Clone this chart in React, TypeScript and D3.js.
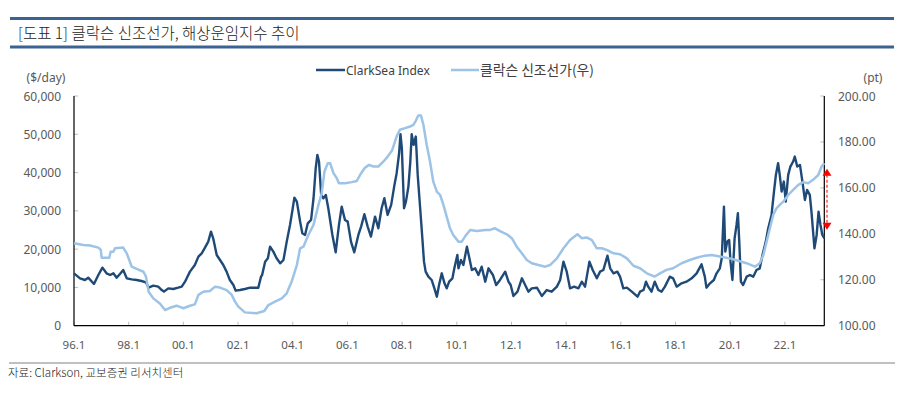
import React from "react";
import * as d3 from "d3";

// ---- Data ----
const clarkYears = [
  1996.0, 1996.22, 1996.4, 1996.52, 1996.73, 1996.89, 1997.04, 1997.19, 1997.32, 1997.44, 1997.56, 1997.68, 1997.8, 1997.93,
  1998.11, 1998.29, 1998.47, 1998.63, 1998.73, 1998.9, 1999.08, 1999.21, 1999.29, 1999.45, 1999.63, 1999.81, 1999.94,
  2000.06, 2000.24, 2000.42, 2000.55, 2000.67, 2000.79, 2000.91, 2001.01, 2001.09, 2001.22, 2001.34, 2001.46, 2001.58,
  2001.7, 2001.83, 2001.91, 2002.07, 2002.25, 2002.44, 2002.62, 2002.74, 2002.84, 2002.88, 2002.99, 2003.09, 2003.17,
  2003.29, 2003.41, 2003.54, 2003.66, 2003.78, 2003.9, 2003.99, 2004.06, 2004.15, 2004.27, 2004.35, 2004.45, 2004.55,
  2004.67, 2004.76, 2004.84, 2004.9, 2004.96, 2005.04, 2005.12, 2005.21, 2005.3, 2005.45, 2005.57, 2005.69, 2005.79,
  2005.91, 2006.01, 2006.13, 2006.25, 2006.4, 2006.5, 2006.62, 2006.74, 2006.86, 2007.01, 2007.13, 2007.25, 2007.35,
  2007.47, 2007.6, 2007.72, 2007.8, 2007.89, 2007.94, 2007.99, 2008.07, 2008.14, 2008.23, 2008.3, 2008.35, 2008.42,
  2008.5, 2008.57, 2008.66, 2008.74, 2008.8, 2008.86, 2008.96, 2009.08, 2009.18, 2009.27, 2009.35, 2009.45, 2009.55,
  2009.63, 2009.72, 2009.84, 2009.91, 2010.02, 2010.06, 2010.15, 2010.24, 2010.37, 2010.46, 2010.55, 2010.67, 2010.79,
  2010.91, 2011.04, 2011.16, 2011.32, 2011.44, 2011.58, 2011.77, 2011.89, 2011.97, 2012.07, 2012.22, 2012.38, 2012.5,
  2012.62, 2012.74, 2012.93, 2013.11, 2013.29, 2013.47, 2013.66, 2013.78, 2013.9, 2014.02, 2014.14, 2014.29, 2014.45,
  2014.57, 2014.69, 2014.85, 2014.97, 2015.12, 2015.24, 2015.36, 2015.51, 2015.61, 2015.73, 2015.87, 2015.97, 2016.09,
  2016.22, 2016.4, 2016.61, 2016.7, 2016.83, 2016.92, 2017.0, 2017.12, 2017.24, 2017.37, 2017.49, 2017.61, 2017.79,
  2017.91, 2018.04, 2018.22, 2018.4, 2018.59, 2018.77, 2018.95, 2019.07, 2019.13, 2019.26, 2019.4, 2019.5, 2019.62,
  2019.69, 2019.77, 2019.82, 2019.89, 2019.96, 2020.01, 2020.08, 2020.16, 2020.23, 2020.28, 2020.33, 2020.39, 2020.47,
  2020.6, 2020.72, 2020.84, 2020.96, 2021.08, 2021.18, 2021.3, 2021.39, 2021.51, 2021.6, 2021.67, 2021.75, 2021.81,
  2021.88, 2021.96, 2022.03, 2022.12, 2022.2, 2022.3, 2022.36, 2022.45, 2022.55, 2022.64, 2022.73, 2022.81, 2022.91,
  2022.97, 2023.03, 2023.08, 2023.16, 2023.23, 2023.3, 2023.37, 2023.44,
];
const clarkValues = [
  13680, 12370, 11940, 12550, 10900, 13250, 15160, 13680, 13250, 13680, 12550, 13500, 14550, 12370,
  12110, 11940, 11680, 11330, 9930, 10460, 10200, 9320, 8890, 9760, 9590, 9930, 10200,
  11500, 14120, 15860, 18040, 18910, 20390, 21960, 24575, 22830, 18475, 17170, 15860, 14120,
  11940, 10630, 9150, 9320, 9590, 9930, 9930, 9930, 12810, 13250, 16730, 17600, 20650,
  19350, 17600, 16300, 17170, 21960, 26320, 30240, 33460, 32420, 27190, 24140, 23700, 26750,
  27620, 33290, 41130, 44620, 42880, 34160, 33290, 34160, 30680, 23700, 19170, 26320, 31110,
  27620, 27190, 21960, 19170, 23700, 25880, 29110, 25880, 23270, 28500, 25450, 30680, 33290,
  28930, 31550, 36780, 39830, 45050, 50020, 46360, 30680, 32420, 36340, 42880, 50020, 47230,
  49410, 39390, 30680, 22830, 16730, 14120, 12810, 11940, 9760, 7580, 10630, 13680, 11070,
  9760, 11500, 12370, 14990, 18475, 14990, 17170, 15860, 20650, 17600, 14550, 14990, 13250,
  15420, 11500, 14990, 13250, 10630, 11940, 14120, 11500, 10630, 7760, 8890, 12370, 10630,
  8890, 9760, 9930, 7760, 9320, 8890, 10200, 11940, 16730, 14120, 9760, 10200, 9760,
  11500, 10200, 16730, 14550, 12370, 14120, 14550, 18300, 14990, 13680, 14120, 12810, 9760,
  9930, 8890, 7580, 8890, 9320, 11500, 10200, 8890, 11500, 9320, 8890, 10200, 12810,
  12370, 10200, 11070, 11500, 12370, 13680, 16030, 12810, 9930, 11070, 11940, 13680, 14990,
  17600, 31110, 19350, 21960, 22400, 16730, 11940, 22830, 26320, 29370, 21960, 11500, 10630,
  12810, 13250, 12810, 14550, 14990, 18475, 21960, 25450, 28930, 35030, 39390, 42440, 39390,
  35030, 37650, 32420, 39390, 41570, 42880, 44180, 41570, 42000, 37650, 32850, 35470, 34160,
  29800, 24575, 20220, 23700, 29800, 26320, 23700, 22830,
];

const priceYears = [
  1996.0, 1996.34, 1996.59, 1996.89, 1996.98, 1997.01, 1997.29, 1997.34, 1997.44, 1997.5, 1997.8, 1997.93,
  1998.11, 1998.29, 1998.54, 1998.63, 1998.73, 1998.9, 1999.14, 1999.33, 1999.51, 1999.75, 1999.88, 2000.0,
  2000.24, 2000.42, 2000.55, 2000.73, 2000.97, 2001.16, 2001.34, 2001.58, 2001.76, 2001.89, 2002.01, 2002.25,
  2002.68, 2002.96, 2003.11, 2003.35, 2003.6, 2003.78, 2003.96, 2004.15, 2004.27, 2004.39, 2004.57, 2004.76,
  2004.94, 2005.06, 2005.16, 2005.28, 2005.37, 2005.49, 2005.61, 2005.69, 2005.91, 2006.16, 2006.34, 2006.5,
  2006.64, 2006.79, 2006.95, 2007.13, 2007.32, 2007.47, 2007.64, 2007.8, 2007.92, 2008.11, 2008.29, 2008.41,
  2008.5, 2008.59, 2008.69, 2008.78, 2008.9, 2009.02, 2009.14, 2009.27, 2009.39, 2009.51, 2009.63, 2009.75,
  2009.87, 2010.06, 2010.18, 2010.3, 2010.49, 2010.73, 2011.04, 2011.22, 2011.4, 2011.58, 2011.83, 2012.01,
  2012.19, 2012.38, 2012.56, 2012.74, 2012.99, 2013.23, 2013.41, 2013.66, 2013.9, 2014.14, 2014.41, 2014.57,
  2014.75, 2014.94, 2015.12, 2015.3, 2015.48, 2015.73, 2015.97, 2016.22, 2016.46, 2016.7, 2016.95, 2017.24,
  2017.43, 2017.67, 2017.91, 2018.22, 2018.52, 2018.77, 2019.07, 2019.32, 2019.62, 2019.99, 2020.29, 2020.6,
  2020.9, 2021.08, 2021.21, 2021.33, 2021.45, 2021.57, 2021.69, 2021.81, 2021.94, 2022.12, 2022.3, 2022.49,
  2022.67, 2022.85, 2023.03, 2023.22, 2023.34, 2023.44,
];
const priceValues = [
  135.9, 135.1, 134.9, 134.0, 133.0, 129.6, 129.6, 132.2, 132.2, 133.7, 134.0, 131.5,
  125.7, 124.7, 123.5, 121.4, 114.8, 111.9, 109.7, 106.8, 107.8, 108.7, 108.2, 107.6,
  108.7, 109.3, 113.4, 114.8, 115.1, 117.0, 116.6, 115.5, 113.6, 110.5, 108.3, 105.8,
  105.4, 106.4, 109.0, 110.5, 111.9, 114.1, 119.2, 126.4, 133.7, 134.4, 139.5, 143.9,
  152.6, 157.7, 167.1, 170.7, 170.7, 166.4, 164.2, 162.0, 162.0, 162.5, 163.0, 166.4,
  168.8, 170.0, 169.3, 169.3, 171.5, 173.6, 176.5, 182.4, 185.3, 186.0, 186.7, 187.4,
  189.2, 191.5, 191.5, 187.4, 178.7, 171.5, 162.7, 158.4, 156.9, 152.6, 147.5, 142.4,
  139.5, 136.6, 136.6, 138.8, 141.7, 141.2, 141.7, 141.7, 142.4, 141.2, 139.8, 138.1,
  134.4, 131.5, 128.6, 127.2, 126.4, 125.7, 126.4, 129.3, 133.7, 137.3, 139.8, 138.1,
  138.4, 137.3, 133.7, 133.7, 133.0, 131.5, 131.1, 129.3, 126.1, 125.0, 122.8, 121.4,
  122.8, 124.3, 125.0, 127.2, 128.6, 129.6, 130.5, 130.8, 130.1, 129.3, 128.3, 127.2,
  125.7, 127.2, 130.8, 136.6, 142.4, 148.2, 151.1, 152.6, 154.0, 156.9, 159.1, 161.3,
  162.5, 162.0, 163.5, 165.6, 169.3, 170.7,
];

const xTickYears = [1996, 1998, 2000, 2002, 2004, 2006, 2008, 2010, 2012, 2014, 2016, 2018, 2020, 2022];
const xTickLabels = ["96.1", "98.1", "00.1", "02.1", "04.1", "06.1", "08.1", "10.1", "12.1", "14.1", "16.1", "18.1", "20.1", "22.1"];
const leftTicks = [0, 10000, 20000, 30000, 40000, 50000, 60000];
const rightTicks = [100, 120, 140, 160, 180, 200];
const arrowRange = [168.3, 141.8];

const TITLE = "[도표 1] 클락슨 신조선가, 해상운임지수 추이";
const SOURCE = "자료: Clarkson, 교보증권 리서치센터";
const SERIES_NAMES = ["ClarkSea Index", "클락슨 신조선가(우)"];

const DARK = "#1f4a78";
const LIGHT = "#9dc3e6";
const FONT = "'Noto Sans', 'Noto Sans CJK KR', sans-serif";
const KFONT = "'Noto Sans CJK KR', 'Noto Sans', sans-serif";

export default function App() {
  const W = 905, H = 406;
  const L = 74, R = 824.3, T = 96, B = 325.7;
  const x = d3.scaleLinear().domain([1996, 2023.44]).range([L, R]);
  const yL = d3.scaleLinear().domain([0, 60000]).range([B, T]);
  const yR = d3.scaleLinear().domain([100, 200]).range([B, T]);

  const clarkLine = d3.line<number>().x((_, i) => x(clarkYears[i])).y((d) => yL(d));
  const priceLine = d3.line<number>().x((_, i) => x(priceYears[i])).y((d) => yR(d));

  const ax = 827;
  const ay1 = yR(arrowRange[0]);
  const ay2 = yR(arrowRange[1]);

  return (
    <svg width={W} height={H} style={{ position: "absolute", left: 0, top: 0 }}>
      <rect width={W} height={H} fill="#fff" />
      {/* title bars */}
      <rect x={10} y={17} width={884} height={3} fill="#3a6393" />
      <rect x={10} y={45.5} width={884} height={3} fill="#3a6393" />
      <text x={18} y={38.5} fontFamily={KFONT} fontSize={15.5} fontWeight={300} fill="#222">{TITLE}</text>

      {/* legend */}
      <line x1={316} x2={345} y1={70} y2={70} stroke={DARK} strokeWidth={2.5} />
      <text x={346} y={74.5} fontFamily={FONT} fontSize={12} fill="#404040">{SERIES_NAMES[0]}</text>
      <line x1={451} x2={479} y1={70} y2={70} stroke={LIGHT} strokeWidth={2.5} />
      <text x={480} y={74.5} fontFamily={KFONT} fontSize={13.8} fill="#404040">{SERIES_NAMES[1]}</text>

      {/* axis titles */}
      <text x={46} y={82} textAnchor="middle" fontFamily={FONT} fontSize={12} fill="#595959">($/day)</text>
      <text x={873} y={82} textAnchor="middle" fontFamily={FONT} fontSize={12} fill="#595959">(pt)</text>

      {/* left ticks */}
      {leftTicks.map((v) => (
        <g key={"l" + v}>
          <line x1={L} x2={L + 4} y1={yL(v)} y2={yL(v)} stroke="#bfbfbf" />
          <text x={61} y={yL(v) + 4.5} textAnchor="end" fontFamily={FONT} fontSize={12} fill="#595959">
            {d3.format(",")(v)}
          </text>
        </g>
      ))}
      {/* right ticks */}
      {rightTicks.map((v) => (
        <g key={"r" + v}>
          <line x1={R - 4} x2={R} y1={yR(v)} y2={yR(v)} stroke="#bfbfbf" />
          <text x={838} y={yR(v) + 4.5} fontFamily={FONT} fontSize={12} fill="#595959">
            {v.toFixed(2)}
          </text>
        </g>
      ))}
      {/* x ticks */}
      {xTickYears.map((yr, i) => (
        <g key={"x" + yr}>
          <line x1={x(yr)} x2={x(yr)} y1={B} y2={B - 4} stroke="#bfbfbf" />
          <text x={x(yr)} y={349} textAnchor="middle" fontFamily={FONT} fontSize={11.5} fill="#595959">
            {xTickLabels[i]}
          </text>
        </g>
      ))}

      {/* axes lines */}
      <line x1={L} x2={L} y1={T} y2={B} stroke="#000" strokeWidth={1.2} />
      <line x1={R} x2={R} y1={T} y2={B} stroke="#000" strokeWidth={1.2} />
      <line x1={L} x2={R} y1={B} y2={B} stroke="#000" strokeWidth={1.2} />

      {/* series */}
      <path d={clarkLine(clarkValues) || ""} fill="none" stroke={DARK} strokeWidth={2.4} strokeLinejoin="round" />
      <path d={priceLine(priceValues) || ""} fill="none" stroke={LIGHT} strokeWidth={2.5} strokeLinejoin="round" />

      {/* red arrow */}
      <line x1={ax} x2={ax} y1={ay1 + 6} y2={ay2 - 6} stroke="#ff5050" strokeWidth={1.5} strokeDasharray="3,2" />
      <path d={`M${ax},${ay1} L${ax - 4.5},${ay1 + 7} L${ax + 4.5},${ay1 + 7} Z`} fill="#ff0000" />
      <path d={`M${ax},${ay2} L${ax - 4.5},${ay2 - 7} L${ax + 4.5},${ay2 - 7} Z`} fill="#ff0000" />

      {/* source */}
      <rect x={9} y={362} width={886} height={2} fill="#c0c0c0" />
      <text x={8} y={377} fontFamily={KFONT} fontSize={11.5} fontWeight={300} fill="#222">{SOURCE}</text>
    </svg>
  );
}
